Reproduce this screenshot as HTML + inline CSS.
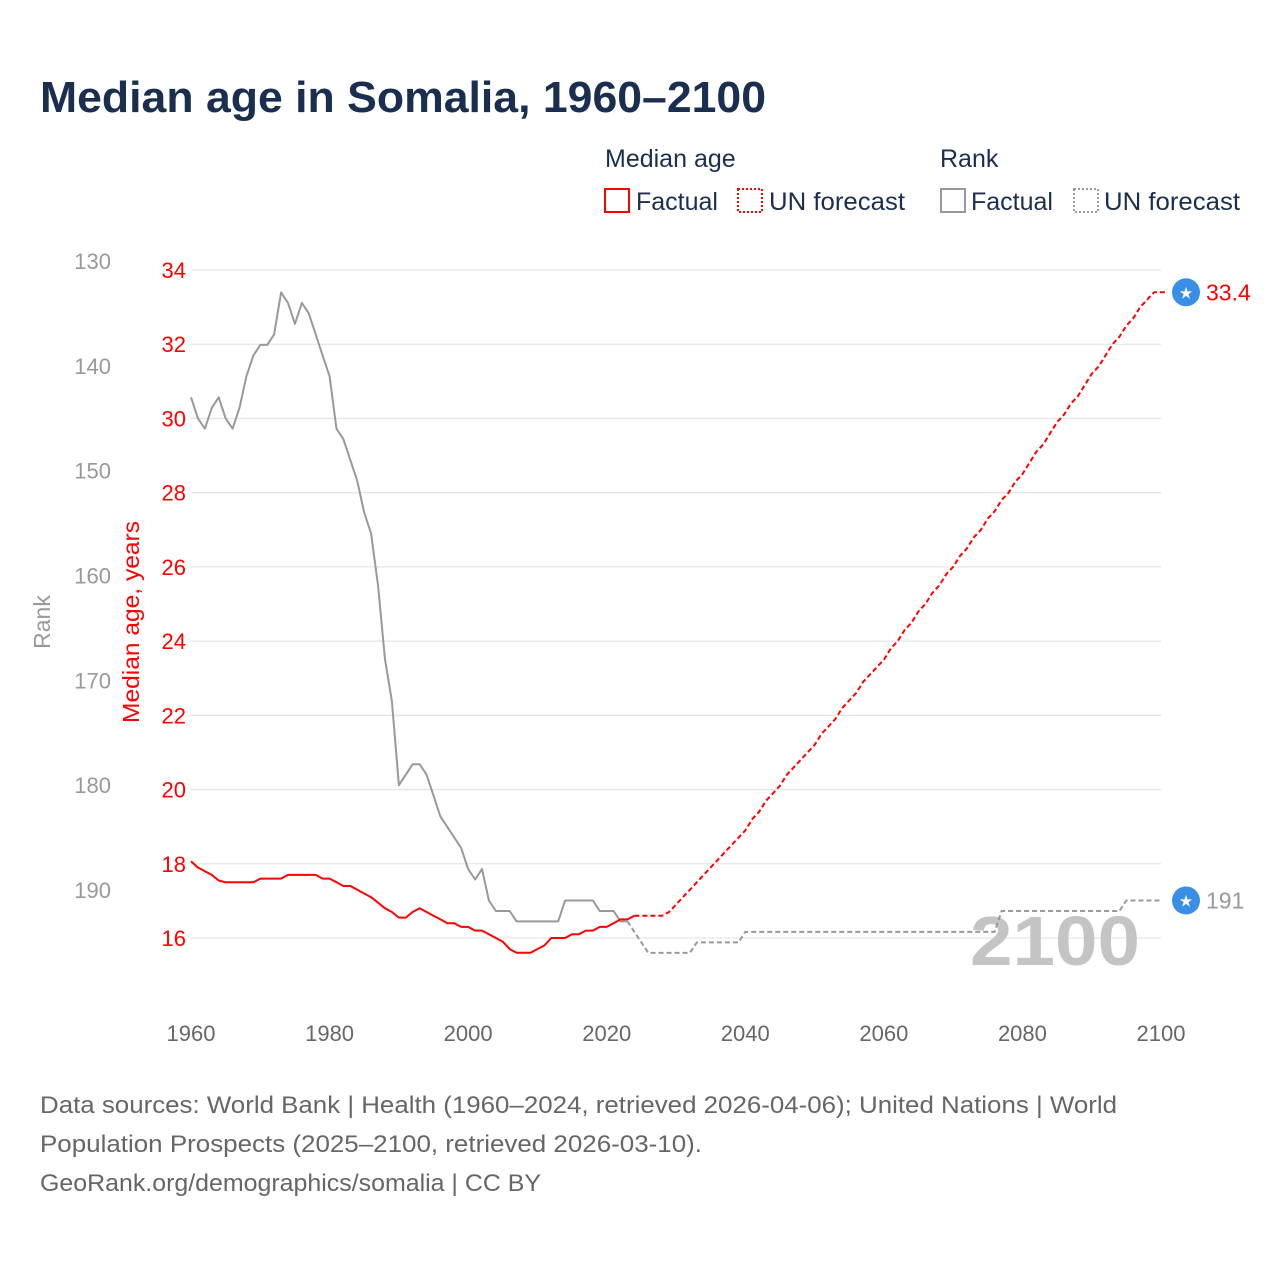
<!DOCTYPE html>
<html><head><meta charset="utf-8"><style>
html,body{margin:0;padding:0;background:#fff;}
svg{display:block;font-family:"Liberation Sans",sans-serif;}
</style></head><body>
<svg id="chart" width="1280" height="1280" viewBox="0 0 1280 1280">
<text x="40" y="112" font-size="44" font-weight="bold" fill="#1a2e4f" textLength="726" lengthAdjust="spacingAndGlyphs">Median age in Somalia, 1960–2100</text>
<g font-size="25" fill="#1a2e4f">
<text x="605" y="167">Median age</text>
<text x="940" y="167">Rank</text>
<g><rect x="605" y="189" width="24" height="23" fill="none" stroke="#f00" stroke-width="2"/><text x="636" y="210">Factual</text></g>
<g><rect x="738" y="189" width="24" height="23" fill="none" stroke="#f00" stroke-width="2" stroke-dasharray="2,2"/><text x="769" y="210" textLength="136" lengthAdjust="spacingAndGlyphs">UN forecast</text></g>
<g><rect x="941" y="189" width="24" height="23" fill="none" stroke="#999" stroke-width="2"/><text x="971" y="210">Factual</text></g>
<g><rect x="1074" y="189" width="24" height="23" fill="none" stroke="#999" stroke-width="2" stroke-dasharray="2,2"/><text x="1104" y="210" textLength="136" lengthAdjust="spacingAndGlyphs">UN forecast</text></g>
</g>
<g id="grid"></g>
<g id="axes"></g>
<text x="1055" y="965" font-size="70" font-weight="bold" fill="#c4c4c4" text-anchor="middle" textLength="170" lengthAdjust="spacingAndGlyphs">2100</text>
<g id="series"></g>
<text transform="translate(50,622) rotate(-90)" font-size="23" fill="#999" text-anchor="middle">Rank</text>
<text transform="translate(139,622) rotate(-90)" font-size="23" fill="#f00" text-anchor="middle" textLength="202" lengthAdjust="spacingAndGlyphs">Median age, years</text>
<g font-size="24" fill="#666">
<text x="40" y="1113" textLength="1077" lengthAdjust="spacingAndGlyphs">Data sources: World Bank | Health (1960–2024, retrieved 2026-04-06); United Nations | World</text>
<text x="40" y="1152" textLength="662" lengthAdjust="spacingAndGlyphs">Population Prospects (2025–2100, retrieved 2026-03-10).</text>
<text x="40" y="1191" textLength="501" lengthAdjust="spacingAndGlyphs">GeoRank.org/demographics/somalia | CC BY</text>
</g>
</svg>
<script>
const xTicks=[1960,1980,2000,2020,2040,2060,2080,2100];
const ageTicks=[16,18,20,22,24,26,28,30,32,34];
const rankTicks=[130,140,150,160,170,180,190];
const ageFactStart=1960;
const ageFactual=[18.07,17.9,17.8,17.7,17.55,17.5,17.5,17.5,17.5,17.5,17.6,17.6,17.6,17.6,17.7,17.7,17.7,17.7,17.7,17.6,17.6,17.5,17.4,17.4,17.3,17.2,17.1,16.95,16.8,16.7,16.55,16.55,16.7,16.8,16.7,16.6,16.5,16.4,16.4,16.3,16.3,16.2,16.2,16.1,16.0,15.9,15.7,15.6,15.6,15.6,15.7,15.8,16.0,16.0,16.0,16.1,16.1,16.2,16.2,16.3,16.3,16.4,16.5,16.5,16.6];
const ageFcStart=2024;
const ageForecast=[16.6,16.6,16.6,16.6,16.6,16.7,16.9,17.1,17.3,17.5,17.7,17.9,18.1,18.3,18.5,18.7,18.9,19.2,19.4,19.7,19.9,20.1,20.4,20.6,20.8,21.0,21.2,21.5,21.7,21.9,22.2,22.4,22.6,22.9,23.1,23.3,23.5,23.8,24.0,24.3,24.5,24.8,25.0,25.3,25.5,25.8,26.0,26.3,26.5,26.8,27.0,27.3,27.5,27.8,28.0,28.3,28.5,28.8,29.1,29.3,29.6,29.9,30.1,30.4,30.6,30.9,31.2,31.4,31.7,32.0,32.2,32.5,32.7,33.0,33.2,33.4,33.4,33.4];
const rankFactStart=1960;
const rankFactual=[143,145,146,144,143,145,146,144,141,139,138,138,137,133,134,136,134,135,137,139,141,146,147,149,151,154,156,161,168,172,180,179,178,178,179,181,183,184,185,186,188,189,188,191,192,192,192,193,193,193,193,193,193,193,191,191,191,191,191,192,192,192,193,193];
const rankFcStart=2023;
const rankForecast=[193,194,195,196,196,196,196,196,196,196,195,195,195,195,195,195,195,194,194,194,194,194,194,194,194,194,194,194,194,194,194,194,194,194,194,194,194,194,194,194,194,194,194,194,194,194,194,194,194,194,194,194,194,194,192,192,192,192,192,192,192,192,192,192,192,192,192,192,192,192,192,192,191,191,191,191,191,191];
const ageLabel="33.4", rankLabel="191";

const X=y=>191+(y-1960)*(970/140);
const YA=a=>270+(34-a)*(668/18);
const YR=r=>261+(r-130)*(629/60);
const NS="http://www.w3.org/2000/svg";
function mk(tag,attrs,parent){const e=document.createElementNS(NS,tag);for(const k in attrs)e.setAttribute(k,attrs[k]);parent.appendChild(e);return e;}
const grid=document.getElementById('grid'),axes=document.getElementById('axes'),ser=document.getElementById('series');
ageTicks.forEach(t=>{
 const l=mk('line',{x1:191,x2:1161,y1:YA(t),y2:YA(t),stroke:'#e6e6e6','stroke-width':1.3},grid);
 
 
 const tx=mk('text',{x:186,y:YA(t)+8,'font-size':22,fill:'#f00','text-anchor':'end'},axes);tx.textContent=t;
 
 
});
rankTicks.forEach(t=>{
 const tx=mk('text',{x:111,y:YR(t)+8,'font-size':22,fill:'#999','text-anchor':'end'},axes);tx.textContent=t;
 
 
});
xTicks.forEach(t=>{
 const tx=mk('text',{x:X(t),y:1041,'font-size':22,fill:'#666','text-anchor':'middle'},axes);tx.textContent=t;
 
 
});
function path(vals,start,yf,color,dash,name){
 const d=vals.map((v,i)=>(i?'L':'M')+X(start+i).toFixed(1)+','+yf(v).toFixed(1)).join('');
 const p=mk('path',{d:d,fill:'none',stroke:color,'stroke-width':2,'stroke-linejoin':'round'},ser);
 if(dash)p.setAttribute('stroke-dasharray',dash);
 
 
}
path(rankFactual,rankFactStart,YR,'#999',null,'rank-factual-line');
path(rankForecast,rankFcStart,YR,'#999','5,3','rank-forecast-line');
path(ageFactual,ageFactStart,YA,'#f00',null,'age-factual-line');
path(ageForecast,ageFcStart,YA,'#f00','5,3','age-forecast-line');
function marker(y,label,color,name){
 const g=mk('g',{},ser);
 
 
 mk('circle',{cx:1186,cy:y,r:14,fill:'#3a8ee6'},g);
 const s=mk('text',{x:1186,y:y+6,'font-size':16,fill:'#fff','text-anchor':'middle'},g);s.textContent='★';
 const t=mk('text',{x:1206,y:y+8,'font-size':23,fill:color},g);t.textContent=label;
}
marker(YA(ageForecast[ageForecast.length-1]),ageLabel,'#f00','age-end-marker');
marker(YR(rankForecast[rankForecast.length-1]),rankLabel,'#999','rank-end-marker');
</script>
</body></html>
